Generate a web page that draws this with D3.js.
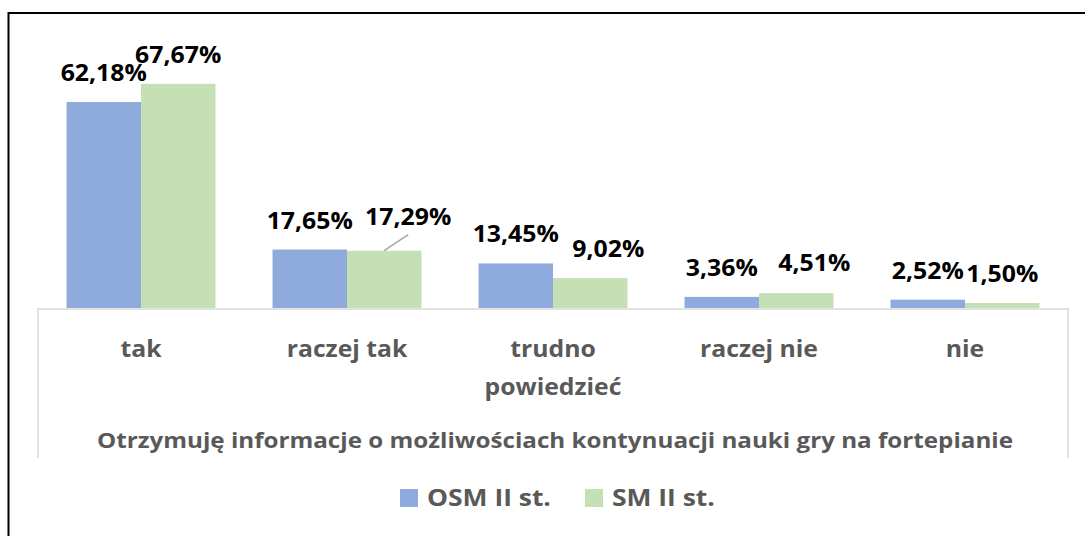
<!DOCTYPE html>
<html>
<head>
<meta charset="utf-8">
<script src="https://cdn.jsdelivr.net/npm/d3@7"></script>
<style>
  html, body { margin: 0; padding: 0; background: #fff; }
  svg { display: block; }
  text { font-family: "Open Sans", Lato, sans-serif; font-weight: bold; }
</style>
</head>
<body>
<svg id="chart" width="1085" height="536"></svg>
<script>
// ---- data ----
const categories = ["tak", "raczej tak", "trudno powiedzieć", "raczej nie", "nie"];
const categoryLines = [["tak"], ["raczej tak"], ["trudno", "powiedzieć"], ["raczej nie"], ["nie"]];
const seriesNames = ["OSM II st.", "SM II st."];
const osmValues = [62.18, 17.65, 13.45, 3.36, 2.52];
const smValues  = [67.67, 17.29, 9.02, 4.51, 1.50];
const axisTitle = "Otrzymuję informacje o możliwościach kontynuacji nauki gry na fortepianie";

// ---- layout / style ----
const colors = ["#8faadc", "#c5e0b4"];
// manual label nudges (series index, category index) -> [dx, dy, leader]
const nudges = { "1-1": [24, -5, true], "1-2": [18, 0, false], "1-3": [18, -1, false] };

const svg = d3.select("#chart");

// frame (outer border of the embedded chart)
svg.append("path")
  .attr("d", "M8.5,600 V13 H1100")
  .attr("fill", "none").attr("stroke", "#000").attr("stroke-width", 2);

const x0 = d3.scaleBand().domain(categories).range([38, 1068])
  .paddingInner(0.277).paddingOuter(0.1385);
const x1 = d3.scaleBand().domain(seriesNames).range([0, x0.bandwidth()]);
const y = d3.scaleLinear().domain([0, 80]).range([308, 43]);

const series = [osmValues, smValues];
const rows = [];
series.forEach((vals, si) => vals.forEach((v, ci) => rows.push({ si, ci, v })));

// bars
svg.append("g").selectAll("rect").data(rows).enter().append("rect")
  .attr("x", d => x0(categories[d.ci]) + x1(seriesNames[d.si]))
  .attr("width", x1.bandwidth())
  .attr("y", d => y(d.v))
  .attr("height", d => y(0) - y(d.v))
  .attr("fill", d => colors[d.si]);

// axis line and category box
const axisG = svg.append("g");
const xAxis = d3.axisBottom(x0).tickSize(0).tickFormat("");
axisG.append("g").attr("transform", `translate(0,${y(0) + 0.5})`).call(xAxis)
  .call(g => g.select(".domain").attr("stroke", "#d9d9d9").attr("stroke-width", 1.5));
const [r0, r1] = x0.range();
[r0, r1].forEach(xx => {
  axisG.append("line").attr("x1", xx).attr("x2", xx)
    .attr("y1", y(0)).attr("y2", 458)
    .attr("stroke", "#d9d9d9").attr("stroke-width", 1.5);
});

// category labels
const catG = svg.append("g");
categoryLines.forEach((lines, ci) => {
  const cx = x0(categories[ci]) + x0.bandwidth() / 2;
  lines.forEach((ln, li) => {
    catG.append("text")
      .attr("transform", `translate(${cx},${357 + li * 38}) scale(1.1,1)`)
      .attr("text-anchor", "middle")
      .attr("font-size", 22.5)
      .attr("fill", "#595959")
      .text(ln);
  });
});

// axis title
svg.append("text")
  .attr("transform", `translate(${(r0 + r1) / 2 + 2},448) scale(1.1,1)`)
  .attr("text-anchor", "middle")
  .attr("font-size", 22)
  .attr("fill", "#595959")
  .text(axisTitle);

// value labels
const fmt = v => v.toFixed(2).replace(".", ",") + "%";
const labG = svg.append("g");
rows.forEach(d => {
  const bx = x0(categories[d.ci]) + x1(seriesNames[d.si]) + x1.bandwidth() / 2;
  const by = y(d.v);
  const n = nudges[d.si + "-" + d.ci] || [0, 0, false];
  const lx = bx + n[0], ly = by - 21 + n[1];
  if (n[2]) {
    labG.append("line")
      .attr("x1", bx).attr("y1", by)
      .attr("x2", lx).attr("y2", ly + 10)
      .attr("stroke", "#a6a6a6").attr("stroke-width", 1.5);
  }
  labG.append("text")
    .attr("transform", `translate(${lx},${ly}) scale(1.08,1)`)
    .attr("text-anchor", "middle")
    .attr("font-size", 23)
    .attr("fill", "#000")
    .text(fmt(d.v));
});

// legend
const legend = svg.append("g");
const legendX = [400, 585];
seriesNames.forEach((name, i) => {
  legend.append("rect").attr("x", legendX[i]).attr("y", 489)
    .attr("width", 18).attr("height", 18).attr("fill", colors[i]);
  legend.append("text")
    .attr("transform", `translate(${legendX[i] + 27},506) scale(1.15,1)`)
    .attr("font-size", 23)
    .attr("fill", "#595959")
    .text(name);
});
</script>
</body>
</html>
